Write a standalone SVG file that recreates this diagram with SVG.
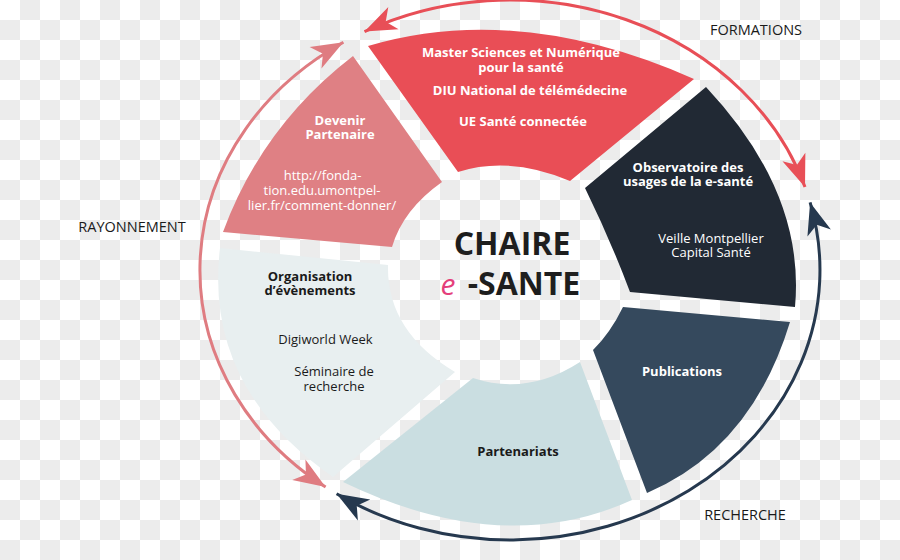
<svg xmlns="http://www.w3.org/2000/svg" width="900" height="560" viewBox="0 0 900 560">
  <defs>
    <pattern id="cb" width="40" height="40" patternUnits="userSpaceOnUse">
      <rect width="40" height="40" fill="#ffffff"/>
      <rect x="20" y="0" width="20" height="20" fill="#ececec"/>
      <rect x="0" y="20" width="20" height="20" fill="#ececec"/>
    </pattern>
    <marker id="mRed" markerUnits="userSpaceOnUse" markerWidth="34" markerHeight="28" viewBox="-31 -13 32 26" refX="0" refY="0" orient="auto-start-reverse">
      <path d="M0,0 L-30,-11.5 L-22,0 L-30,11.5 Z" fill="#e84f57"/>
    </marker>
    <marker id="mPink" markerUnits="userSpaceOnUse" markerWidth="34" markerHeight="28" viewBox="-31 -13 32 26" refX="0" refY="0" orient="auto-start-reverse">
      <path d="M0,0 L-30,-11.5 L-22,0 L-30,11.5 Z" fill="#df7c81"/>
    </marker>
    <marker id="mNavy" markerUnits="userSpaceOnUse" markerWidth="34" markerHeight="28" viewBox="-31 -13 32 26" refX="0" refY="0" orient="auto-start-reverse">
      <path d="M0,0 L-30,-11.5 L-22,0 L-30,11.5 Z" fill="#26394f"/>
    </marker>
  </defs>
  <style>
    text { font-family: "Open Sans", "Liberation Sans", sans-serif; text-anchor: middle; }
    .t { font-size: 13px; font-weight: 700; }
    .r { font-size: 13px; font-weight: 400; }
    .w { fill: #ffffff; }
    .k { fill: #1a1a1a; }
    .lab { font-size: 14.5px; font-weight: 400; fill: #1a1a1a; }
    .arc { fill: none; stroke-width: 3; }
    .big { font-size: 32px; font-weight: 700; fill: #1e1e1e; }
  </style>

  <rect width="900" height="560" fill="url(#cb)"/>

  <g id="connectors">
    <path id="arc-formations" class="arc" stroke="#e84f57" marker-start="url(#mRed)" marker-end="url(#mRed)"
          d="M364.5,31.6 A310,270 0 0 1 805.0,187.0"/>
    <path id="arc-recherche" class="arc" stroke="#26394f" marker-start="url(#mNavy)" marker-end="url(#mNavy)"
          d="M810.1,202.4 A310,270 0 0 1 336.6,493.8"/>
    <path id="arc-rayonnement" class="arc" stroke="#df7c81" marker-start="url(#mPink)" marker-end="url(#mPink)"
          d="M325.6,487.1 A310,270 0 0 1 343.4,42.3"/>
  </g>

  <g id="formations-segment">
    <path d="M368,46 Q519,1.5 694,79 L570,181 Q510,155.5 458,172 Z" fill="#e94e56"/>
    <text class="t w" x="521" y="57">Master Sciences et Numérique</text>
    <text class="t w" x="521" y="72">pour la santé</text>
    <text class="t w" x="530" y="95">DIU National de télémédecine</text>
    <text class="t w" x="523" y="126">UE Santé connectée</text>
  </g>

  <g id="observatoire-segment">
    <path d="M706,87 Q805.5,193 795,307 L630,292 Q610.5,240 585,188 Z" fill="#212934"/>
    <text class="t w" x="688" y="172">Observatoire des</text>
    <text class="t w" x="688" y="186">usages de la e-santé</text>
    <text class="r w" x="711" y="243">Veille Montpellier</text>
    <text class="r w" x="711" y="257">Capital Santé</text>
  </g>

  <g id="publications-segment">
    <path d="M623,307 L790,322 Q751.5,448.5 647,493 L593,350 Q610,333.5 623,307 Z" fill="#35495d"/>
    <text class="t w" x="682" y="376">Publications</text>
  </g>

  <g id="partenariats-segment">
    <path d="M473,378 Q527.5,396 580,362 L632,500 Q502.5,559 343,482 Z" fill="#cadee1"/>
    <text class="t k" x="518" y="456">Partenariats</text>
  </g>

  <g id="organisation-segment">
    <path d="M220,248 L388,265 Q386.5,331.5 455,372 L333,477 Q203.5,387.5 220,248 Z" fill="#e8eff0"/>
    <text class="t k" x="310" y="281">Organisation</text>
    <text class="t k" x="310" y="295">d’évènements</text>
    <text class="r k" x="325.5" y="344">Digiworld Week</text>
    <text class="r k" x="334" y="376">Séminaire de</text>
    <text class="r k" x="334" y="391">recherche</text>
  </g>

  <g id="partenaire-segment">
    <path d="M353,56 L442,182 Q403,209.5 392,247 L223,232 Q262,126 353,56 Z" fill="#df8084"/>
    <text class="t w" x="340" y="125">Devenir</text>
    <text class="t w" x="340" y="139">Partenaire</text>
    <text class="r w" x="322.5" y="180">http://fonda-</text>
    <text class="r w" x="322" y="195">tion.edu.umontpel-</text>
    <text class="r w" x="322" y="210">lier.fr/comment-donner/</text>
  </g>

  <g id="center">
    <text class="big" x="512" y="255">CHAIRE</text>
    <text x="448" y="295" style="font-size:30px;font-style:italic;font-weight:400;fill:#e4407b">e</text>
    <text class="big" x="524" y="295">-SANTE</text>
  </g>

  <g id="labels">
    <text class="lab" x="756" y="35">FORMATIONS</text>
    <text class="lab" x="132" y="232">RAYONNEMENT</text>
    <text class="lab" x="745" y="520">RECHERCHE</text>
  </g>
</svg>
